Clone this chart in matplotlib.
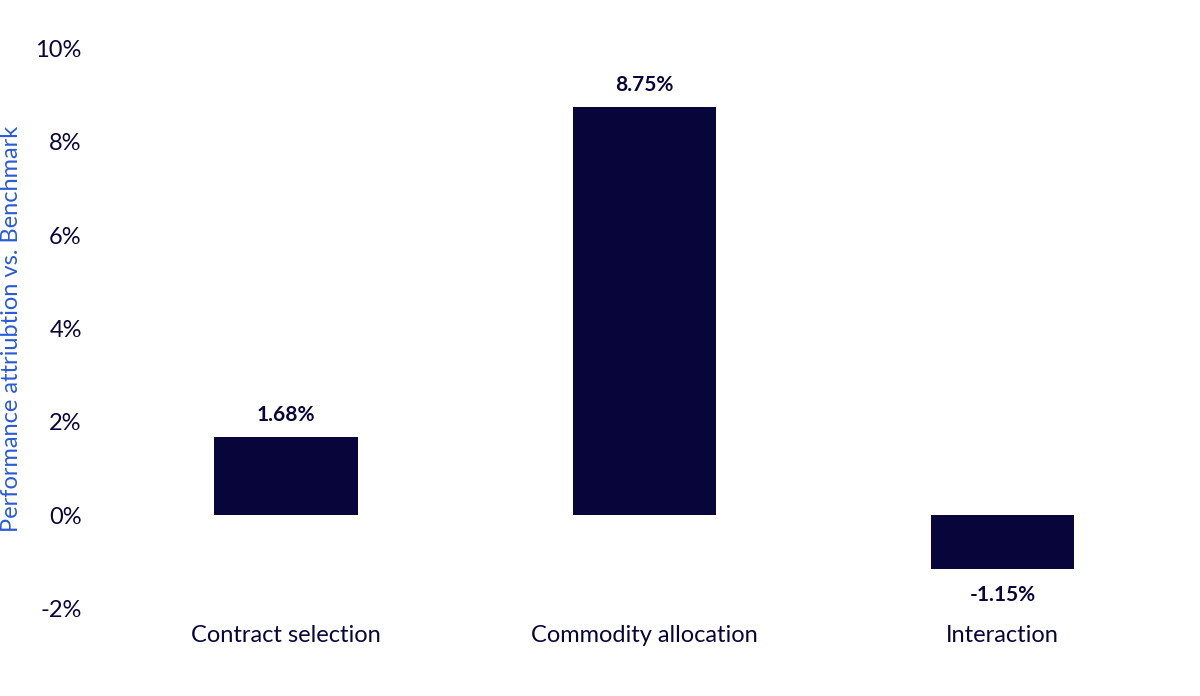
import matplotlib
matplotlib.use("Agg")
import matplotlib.pyplot as plt
from matplotlib.ticker import FuncFormatter

categories = ["Contract selection", "Commodity allocation", "Interaction"]
values = [1.68, 8.75, -1.15]
labels = ["1.68%", "8.75%", "-1.15%"]

plt.rcParams['font.family'] = ['Lato', 'DejaVu Sans']
navy = "#07053a"
fig = plt.figure(figsize=(12, 6.96), dpi=100)
ax = fig.add_axes([0.089, 0.126, 0.896, 0.804])
x = range(len(categories))
ax.bar(x, values, width=0.4, color=navy)
for i, (v, l) in enumerate(zip(values, labels)):
    if v >= 0:
        ax.text(i, v + 0.25, l, ha='center', va='bottom', fontsize=15, fontweight='bold', color=navy)
    else:
        ax.text(i, v - 0.35, l, ha='center', va='top', fontsize=15, fontweight='bold', color=navy)
ax.set_xlim(-0.5, 2.5)
ax.set_ylim(-2, 10)
ax.set_yticks(range(-2, 11, 2))
ax.yaxis.set_major_formatter(FuncFormatter(lambda v, p: f"{int(v)}%"))
ax.set_xticks(list(x))
ax.set_xticklabels(categories)
ax.tick_params(length=0, labelsize=17, colors=navy)
ax.tick_params(axis='x', pad=12)
ax.tick_params(axis='y', pad=18)
for s in ax.spines.values():
    s.set_visible(False)
ax.set_ylabel("Performance attriubtion vs. Benchmark", fontsize=17, color="#2a5bd7", labelpad=10)
fig.savefig("out.png")
